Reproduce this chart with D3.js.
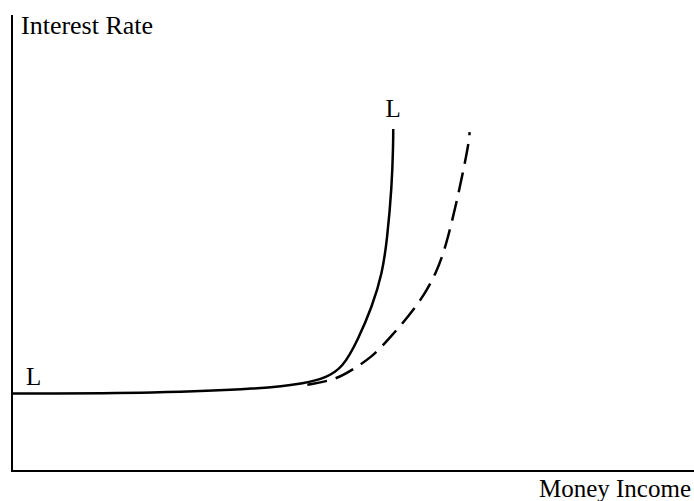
<!DOCTYPE html>
<html>
<head>
<meta charset="utf-8">
<script src="https://cdn.jsdelivr.net/npm/d3@7"></script>
<style>
  body { margin: 0; background: #fff; }
  svg { display: block; }
  text { font-family: "Liberation Serif", "Times New Roman", serif; fill: #000; }
</style>
</head>
<body>
<div id="chart"></div>
<script>
const w = 694;
const h = 501;

// liquidity preference curve L (money income, interest rate)
const incomeL = [0, 21.7, 36.4, 43.3, 45.9, 48.5, 50.7, 52.8, 54.3, 55.0, 55.7, 55.9, 55.9];
const rateL = [17.0, 17.1, 18.0, 19.3, 20.4, 22.6, 28.7, 36.0, 43.4, 50.7, 62.3, 72.0, 75.0];

// shifted curve (dashed)
const incomeShift = [43.3, 47.4, 49.8, 52.8, 55.1, 59.4, 62.3, 63.9, 65.7, 67.0, 67.1];
const rateShift = [18.9, 20.0, 22.1, 25.0, 28.7, 36.0, 43.4, 50.7, 62.3, 72.0, 74.3];

const axisLabels = ['Money Income', 'Interest Rate'];
const curveLabel = 'L';

const svg = d3
	.select('#chart')
	.append('svg')
	.attr('width', w)
	.attr('height', h);

const x = d3.scaleLinear().domain([0, 100]).range([12, 694]);
const y = d3.scaleLinear().domain([0, 100]).range([471, 15]);

// axes: plain lines, no ticks
svg.append('line')
	.attr('x1', x(0)).attr('x2', x(0))
	.attr('y1', y(100)).attr('y2', y(0) + 1)
	.attr('stroke', '#000')
	.attr('stroke-width', 2);

svg.append('line')
	.attr('x1', x(0) - 1).attr('x2', x(100))
	.attr('y1', y(0)).attr('y2', y(0))
	.attr('stroke', '#000')
	.attr('stroke-width', 2);

const line = d3
	.line()
	.x(d => x(d[0]))
	.y(d => y(d[1]))
	.curve(d3.curveBasis);

svg.append('path')
	.datum(d3.zip(incomeL, rateL))
	.attr('d', line)
	.attr('fill', 'none')
	.attr('stroke', '#000')
	.attr('stroke-width', 2.5);

svg.append('path')
	.datum(d3.zip(incomeShift, rateShift))
	.attr('d', line)
	.attr('fill', 'none')
	.attr('stroke', '#000')
	.attr('stroke-width', 2.5)
	.attr('stroke-dasharray', '20,9');

// labels
svg.append('text')
	.attr('x', 21)
	.attr('y', 34)
	.attr('font-size', 26)
	.text(axisLabels[1]);

svg.append('text')
	.attr('x', 691)
	.attr('y', 497)
	.attr('font-size', 25)
	.attr('text-anchor', 'end')
	.text(axisLabels[0]);

svg.append('text')
	.attr('x', x(incomeL[0]) + 14)
	.attr('y', y(rateL[0]) - 8)
	.attr('font-size', 25)
	.text(curveLabel);

svg.append('text')
	.attr('x', x(incomeL[incomeL.length - 1]))
	.attr('y', y(rateL[rateL.length - 1]) - 12)
	.attr('font-size', 25)
	.attr('text-anchor', 'middle')
	.text(curveLabel);
</script>
</body>
</html>
